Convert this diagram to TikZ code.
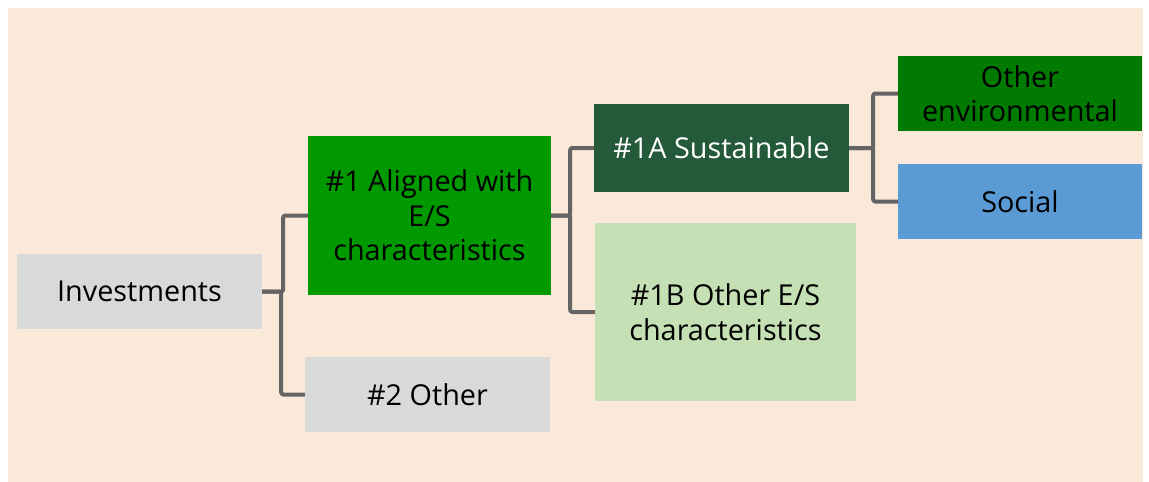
\documentclass[tikz,border=0pt]{standalone}
\usepackage{fontspec}
\setmainfont{Open Sans}
\definecolor{bgpeach}{HTML}{FAE8D8}
\definecolor{boxgray}{HTML}{D9D9D9}
\definecolor{greenA}{HTML}{009900}
\definecolor{greenDark}{HTML}{245A3A}
\definecolor{greenLight}{HTML}{C5E0B4}
\definecolor{greenEnv}{HTML}{007A00}
\definecolor{blueSoc}{HTML}{5B9BD5}
\definecolor{linegray}{HTML}{646464}
\begin{document}
\begin{tikzpicture}[x=1pt,y=-1pt,
  box/.style={rectangle, inner sep=0pt, align=center, text=black,
    font=\fontsize{28.8}{34.5}\selectfont},
  conn/.style={draw=linegray, line width=4pt, line join=round, rounded corners=2pt}
]
\useasboundingbox (0,0) rectangle (1149,482);
\fill[bgpeach] (8,8) rectangle (1143,482);

\node[box, fill=boxgray, minimum width=245pt, minimum height=75pt] (inv) at (139.5,291.5) {Investments};
\node[box, fill=greenA, minimum width=243pt, minimum height=159pt] (a1) at (429.5,215.5) {\#1 Aligned with\\E/S\\characteristics};
\node[box, fill=boxgray, minimum width=245pt, minimum height=75pt] (o2) at (427.5,394.5) {\#2 Other};
\node[box, fill=greenDark, text=white, minimum width=255pt, minimum height=88pt] (s1a) at (721.5,148) {\#1A Sustainable};
\node[box, fill=greenLight, minimum width=261pt, minimum height=178pt] (b1b) at (725.5,312) {\#1B Other E/S\\characteristics};
\node[box, fill=greenEnv, minimum width=244pt, minimum height=75pt] (env) at (1020,93.5) {Other\\environmental};
\node[box, fill=blueSoc, minimum width=244pt, minimum height=75pt] (soc) at (1020,201.5) {Social};

\draw[conn] (inv.east) -- ++(21,0) |- (a1.west);
\draw[conn] (inv.east) -- ++(19,0) |- (o2.west);
\draw[conn] (a1.east) -- ++(19,0) |- (s1a.west);
\draw[conn] (a1.east) -- ++(19,0) |- (b1b.west);
\draw[conn] (s1a.east) -- ++(24,0) |- (env.west);
\draw[conn] (s1a.east) -- ++(24,0) |- (soc.west);
\end{tikzpicture}
\end{document}
